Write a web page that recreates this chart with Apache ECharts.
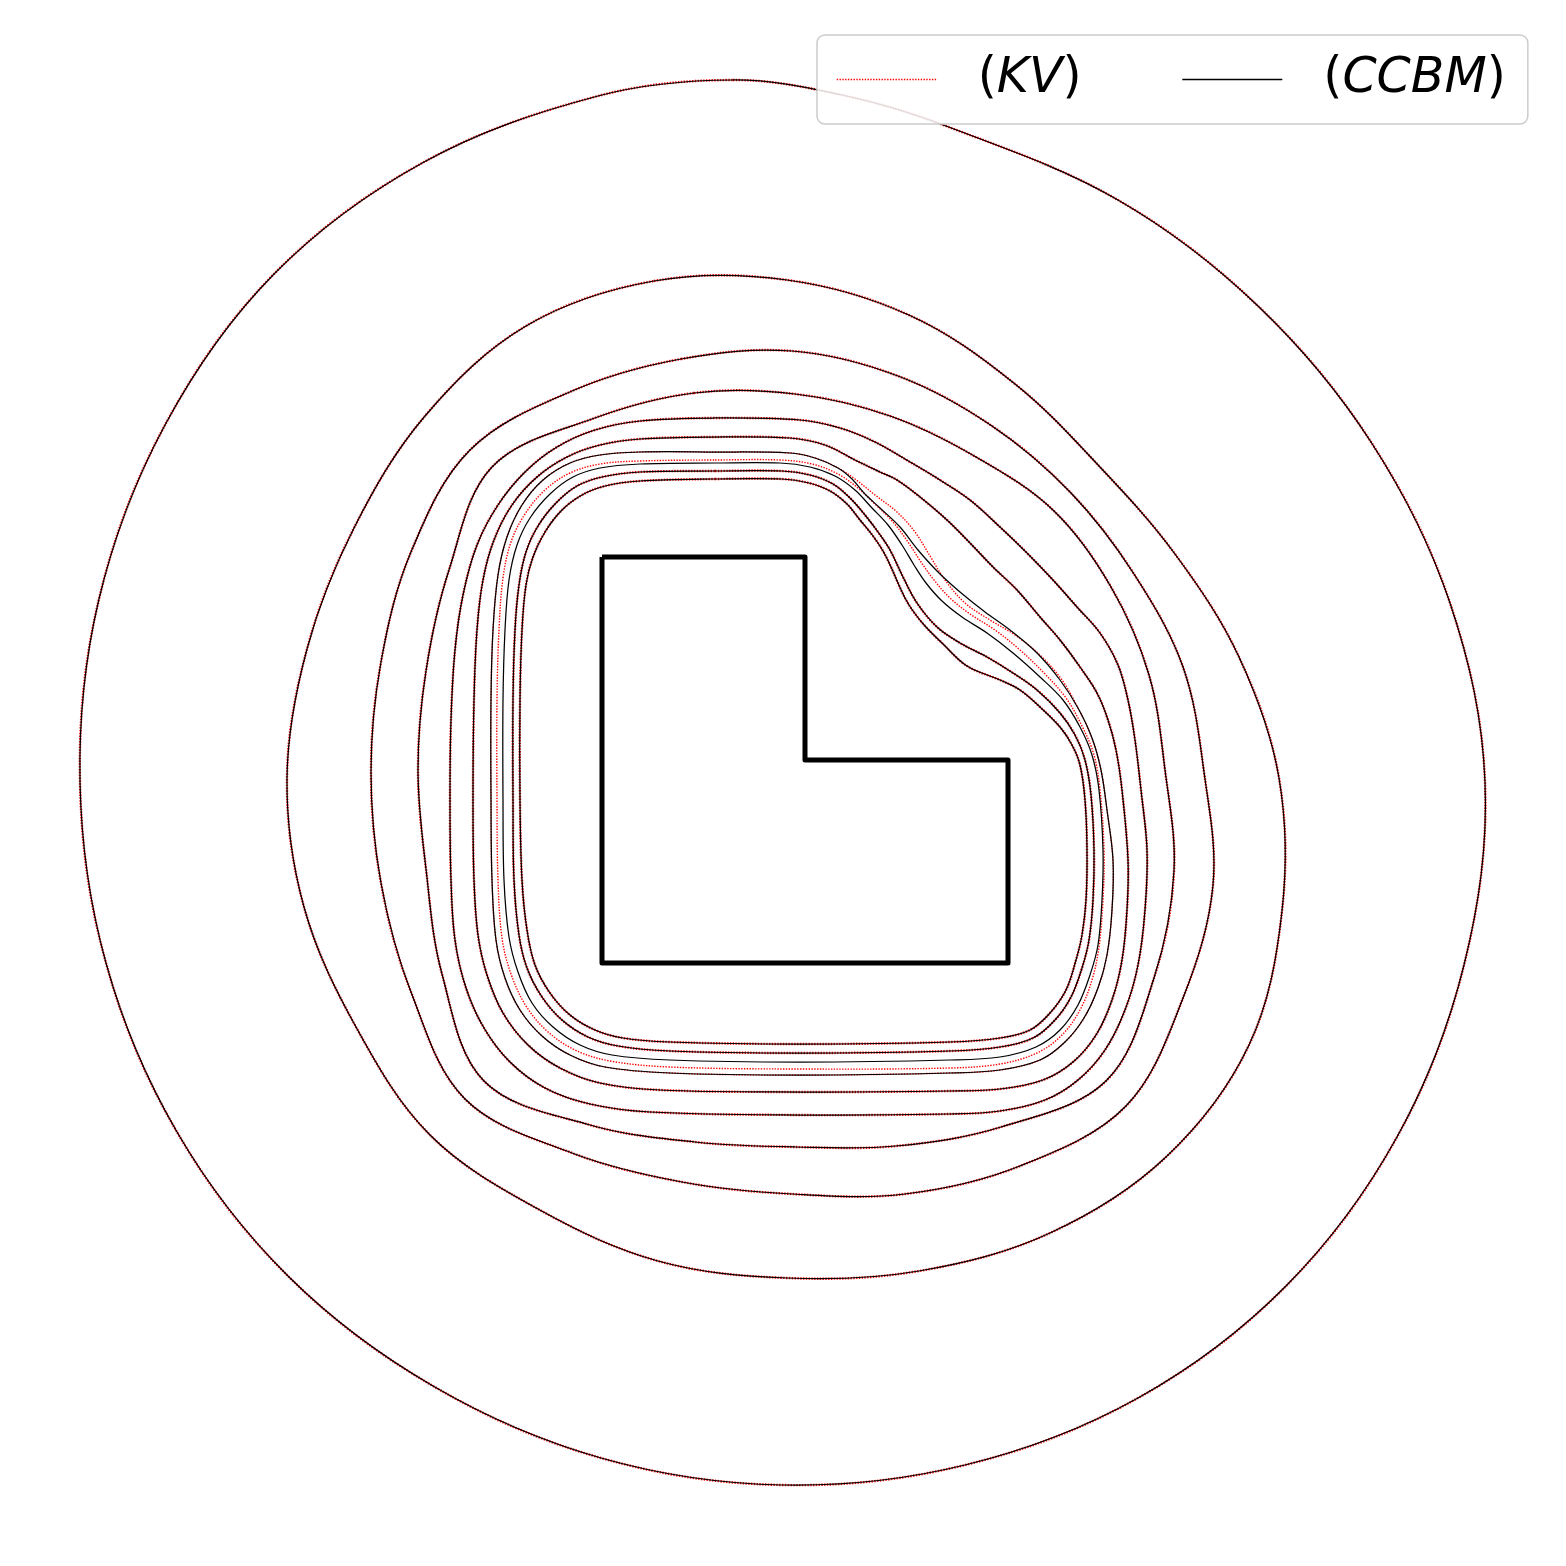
<!DOCTYPE html>
<html>
<head>
<meta charset="utf-8">
<script src="https://cdn.jsdelivr.net/npm/echarts@6/dist/echarts.min.js"></script>
<style>
html,body{margin:0;padding:0;background:#fff;}
#chart{width:1566px;height:1566px;}
</style>
</head>
<body>
<div id="chart"></div>
<script>
// Coordinates: origin at the re-entrant corner of the L obstacle, y up (1 unit = 1 px of the figure).
const obstacle = [[-203,203],[0,203],[0,0],[203,0],[203,-203],[-203,-203],[-203,203]];

// CCBM level curves (closed loops, listed clockwise from the top)
const ccbm1 = [[-72,680],[37,665],[141,634],[313,560],[453,454],[566,318],[645,157],[680,-22],[659,-205],[592,-377],[481,-526],[333,-638],[160,-705],[-23,-725],[-204,-698],[-372,-626],[-517,-516],[-628,-372],[-699,-203],[-725,-22],[-706,161],[-640,335],[-531,486],[-381,598],[-207,664]];
const ccbm2 = [[-151,479],[-18,480],[106,444],[210,376],[294,294],[370,206],[434,103],[474,-18],[477,-151],[444,-285],[361,-397],[245,-473],[114,-511],[-18,-518],[-147,-501],[-267,-449],[-375,-375],[-449,-267],[-501,-147],[-518,-18],[-498,111],[-451,232],[-380,344],[-279,434]];
const ccbm3 = [[-124,401],[-13,409],[93,384],[187,334],[266,267],[329,186],[378,93],[399,-12],[408,-125],[378,-238],[321,-346],[215,-406],[100,-434],[-13,-434],[-123,-422],[-233,-393],[-340,-339],[-394,-232],[-424,-123],[-434,-12],[-424,98],[-394,208],[-335,310],[-233,369]];
const ccbm4 = [[-111,367],[-10,366],[85,344],[171,303],[249,249],[306,173],[344,85],[360,-10],[369,-111],[349,-218],[301,-321],[196,-367],[91,-386],[-10,-387],[-110,-382],[-215,-365],[-321,-321],[-363,-214],[-379,-109],[-387,-10],[-379,89],[-356,190],[-313,293],[-213,341]];
const ccbm5 = [[-92,342],[-5,340],[35,332],[70,318],[105,298],[135,280],[165,260],[195,233],[222,207],[248,180],[272,153],[295,127],[313,95],[323,60],[330,20],[336,-30],[342,-90],[340,-150],[333,-205],[320,-250],[300,-290],[273,-320],[240,-340],[195,-351],[145,-354],[-5,-355],[-155,-352],[-215,-344],[-260,-328],[-295,-302],[-321,-268],[-339,-228],[-350,-180],[-354,-120],[-355,-40],[-354,40],[-350,110],[-342,165],[-328,215],[-307,255],[-280,288],[-248,313],[-210,330],[-165,339]];
const ccbm6 = [[-93,323],[-15,322],[20,315],[50,300],[75,288],[92,280],[115,263],[142,240],[165,217],[188,193],[212,170],[235,143],[255,120],[275,93],[292,67],[303,40],[311,10],[317,-30],[323,-100],[322,-150],[317,-200],[307,-240],[291,-275],[268,-302],[238,-320],[195,-329],[145,-331],[-5,-332],[-145,-330],[-205,-323],[-245,-308],[-277,-285],[-302,-253],[-318,-215],[-327,-175],[-331,-120],[-332,-40],[-331,60],[-328,130],[-322,180],[-311,220],[-293,255],[-268,283],[-238,303],[-205,315],[-165,321]];
const ccbm7 = [[-93,308],[-15,307],[10,302],[33,292],[47,281],[59,267],[75,252],[95,233],[113,210],[133,188],[155,168],[180,148],[205,130],[232,107],[255,80],[273,52],[287,22],[296,-10],[302,-50],[308,-100],[307,-150],[302,-195],[293,-228],[279,-258],[260,-282],[235,-300],[195,-310],[145,-313],[-5,-315],[-135,-313],[-200,-307],[-235,-295],[-263,-276],[-285,-250],[-300,-218],[-309,-180],[-313,-120],[-314,-40],[-314,60],[-312,130],[-307,185],[-298,223],[-283,255],[-262,280],[-235,297],[-205,305],[-165,308]];
const ccbm8 = [[-90,297],[-25,297],[5,293],[30,284],[50,270],[67,252],[83,235],[97,215],[109,195],[121,177],[137,159],[157,143],[182,127],[208,107],[235,83],[258,60],[275,33],[287,5],[294,-30],[298,-90],[297,-140],[293,-185],[285,-215],[273,-245],[255,-270],[231,-287],[195,-297],[145,-300],[-5,-302],[-135,-300],[-193,-295],[-225,-285],[-252,-267],[-273,-243],[-287,-212],[-296,-177],[-301,-120],[-302,-40],[-302,60],[-300,130],[-296,180],[-288,215],[-275,242],[-255,266],[-232,283],[-205,292],[-165,296]];
const ccbm9 = [[-90,289],[-23,289],[5,285],[28,276],[45,262],[60,245],[73,228],[85,210],[98,183],[112,157],[132,133],[155,117],[182,103],[208,87],[232,70],[255,47],[270,25],[280,0],[286,-35],[289,-90],[288,-140],[284,-180],[277,-208],[266,-237],[250,-260],[228,-278],[195,-287],[145,-291],[-5,-293],[-135,-291],[-187,-286],[-217,-277],[-243,-260],[-263,-237],[-278,-208],[-286,-175],[-291,-120],[-292,-40],[-292,60],[-290,130],[-286,175],[-279,208],[-267,234],[-249,257],[-228,274],[-203,283],[-165,288]];
const ccbm10 = [[-90,281],[-23,281],[4,277],[25,269],[42,256],[55,240],[68,224],[78,209],[86,193],[93,177],[100,162],[108,149],[120,134],[137,117],[162,94],[195,80],[215,70],[235,53],[255,33],[267,15],[275,-5],[280,-40],[282,-90],[281,-140],[277,-175],[271,-200],[261,-230],[245,-253],[225,-270],[195,-278],[145,-282],[-5,-284],[-135,-282],[-182,-278],[-210,-270],[-235,-255],[-255,-233],[-270,-205],[-278,-170],[-283,-120],[-285,-40],[-285,60],[-283,130],[-279,175],[-272,203],[-260,228],[-243,250],[-223,265],[-200,274],[-165,279]];

// KV level curves (coincide with CCBM except where read otherwise)
const kv7 = [[-93,308],[-15,307],[10,302],[33,292],[50,281],[70,265],[92,248],[110,228],[125,204],[140,180],[160,157],[185,140],[210,125],[235,105],[257,80],[273,52],[287,22],[296,-10],[302,-50],[308,-100],[307,-150],[302,-195],[293,-228],[279,-258],[260,-282],[235,-300],[195,-310],[145,-313],[-5,-315],[-135,-313],[-200,-307],[-235,-295],[-263,-276],[-285,-250],[-300,-218],[-309,-180],[-313,-120],[-314,-40],[-314,60],[-312,130],[-307,185],[-298,223],[-283,255],[-262,280],[-235,297],[-205,305],[-165,308]];
const kv8 = [[-90,300],[-25,300],[7,296],[33,286],[53,272],[71,255],[88,238],[103,218],[116,198],[129,180],[145,162],[165,146],[190,130],[215,110],[240,86],[261,62],[277,34],[289,5],[295,-30],[299,-90],[298,-140],[294,-187],[287,-220],[275,-250],[257,-275],[232,-293],[195,-304],[145,-308],[-5,-309],[-135,-307],[-195,-301],[-230,-290],[-258,-271],[-279,-246],[-294,-214],[-303,-178],[-307,-120],[-308,-40],[-308,60],[-306,130],[-302,182],[-294,218],[-280,246],[-260,270],[-235,287],[-205,296],[-165,299]];
const kv1 = ccbm1, kv2 = ccbm2, kv3 = ccbm3, kv4 = ccbm4, kv5 = ccbm5, kv6 = ccbm6, kv9 = ccbm9, kv10 = ccbm10;

const ccbmLevels = [ccbm1, ccbm2, ccbm3, ccbm4, ccbm5, ccbm6, ccbm7, ccbm8, ccbm9, ccbm10];
const kvLevels = [kv1, kv2, kv3, kv4, kv5, kv6, kv7, kv8, kv9, kv10];
const legendNames = ['KV', 'CCBM'];

function loopSeries(name, d, color, width, dash, z) {
  return {
    name: name, type: 'custom', coordinateSystem: 'cartesian2d',
    data: d, encode: {x: 0, y: 1}, z: z, silent: true, clip: false,
    itemStyle: {color: color},
    renderItem: function (params, api) {
      if (params.dataIndexInside !== 0) return null;
      const pts = [];
      for (let i = 0; i < params.dataInsideLength; i++) {
        pts.push(api.coord([api.value(0, i), api.value(1, i)]));
      }
      return {
        type: 'polygon', silent: true,
        shape: {points: pts, smooth: 0.35},
        style: {fill: 'none', stroke: color, lineWidth: width, lineDash: dash}
      };
    }
  };
}

const chart = echarts.init(document.getElementById('chart'), null, {renderer: 'canvas'});
const series = [];
kvLevels.forEach(function (d, i) {
  const distinct = d !== ccbmLevels[i];
  series.push(loopSeries('KV', d, '#ff0000', distinct ? 1.4 : 2.4, [1.4, 1.4], 2));
});
ccbmLevels.forEach(function (d) {
  series.push(loopSeries('CCBM', d, '#000000', 1.25, null, 3));
});
series.push({
  name: 'obstacle', type: 'line', data: obstacle, smooth: false, symbol: 'none', z: 5,
  lineStyle: {color: '#000000', width: 5, join: 'round'}, silent: true
});

chart.setOption({
  animation: false,
  backgroundColor: '#ffffff',
  grid: {left: 0, right: 0, top: 0, bottom: 0},
  xAxis: {type: 'value', min: -805, max: 761, show: false},
  yAxis: {type: 'value', min: -806, max: 760, show: false},
  legend: {
    data: [
      {name: 'KV', icon: 'line', itemStyle: {color: '#ff0000', borderColor: '#ff0000', borderWidth: 1.4, borderType: [1.4, 1.4]}},
      {name: 'CCBM', icon: 'line', itemStyle: {color: '#000000', borderColor: '#000000', borderWidth: 1.4}}
    ],
    left: 817, top: 35, z: 10,
    padding: [20, 22, 20, 19],
    itemWidth: 100, itemHeight: 14, itemGap: 100,
    backgroundColor: 'rgba(255,255,255,0.85)',
    borderColor: '#cccccc', borderWidth: 1.5, borderRadius: 8,
    formatter: function (name) { return '{s|}{p|(}{i|' + name + '}{p|)}'; },
    textStyle: {
      color: '#000',
      rich: {
        s: {width: 36},
        p: {fontSize: 49, fontFamily: 'DejaVu Sans', color: '#000'},
        i: {fontSize: 49, fontFamily: 'DejaVu Sans', fontStyle: 'italic', color: '#000'}
      }
    }
  },
  series: series
});
</script>
</body>
</html>
